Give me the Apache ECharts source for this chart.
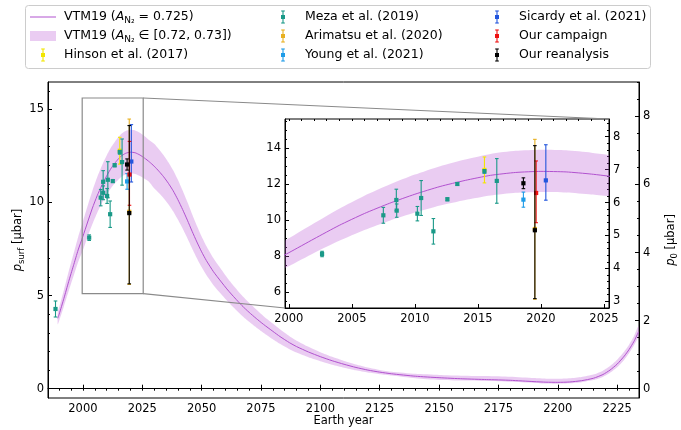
<!DOCTYPE html>
<html><head><meta charset="utf-8">
<script src="https://cdn.jsdelivr.net/npm/echarts@6/dist/echarts.min.js"></script>
<style>html,body{margin:0;padding:0;background:#fff}#c{width:681px;height:430px}</style>
</head><body><div id="c"></div>
<script>
// ---------------- data ----------------
const modelYears=[1989.4,1990,1992,1994,1996,1998,2000,2002,2004,2006,2008,2010,2012,2014,2016,2018,2020,2022,2024,2026,2028,2030,2032,2034,2036,2038,2040,2042,2044,2046,2048,2050,2052,2055,2058,2061,2064,2067,2070,2073,2076,2080,2083,2087,2090,2095,2100,2105,2110,2115,2120,2125,2130,2140,2150,2160,2170,2180,2190,2195,2200,2205,2210,2215,2219,2222,2225,2228,2230,2232,2234];
const modelMid=[3.78,4.0,4.85,5.75,6.6,7.45,8.18,8.95,9.7,10.36,10.93,11.43,11.86,12.2,12.48,12.64,12.7,12.67,12.55,12.38,12.18,11.95,11.68,11.38,11.03,10.63,10.15,9.62,9.05,8.45,7.88,7.35,6.88,6.28,5.78,5.3,4.87,4.46,4.1,3.77,3.46,3.08,2.8,2.47,2.26,1.97,1.72,1.5,1.31,1.14,1.0,0.89,0.8,0.67,0.59,0.53,0.49,0.45,0.38,0.35,0.34,0.36,0.43,0.56,0.76,1.0,1.32,1.75,2.1,2.52,3.05];
const modelHigh=[4.12,4.37,5.3,6.29,7.22,8.15,8.98,9.82,10.63,11.35,11.97,12.52,12.99,13.36,13.67,13.84,13.9,13.87,13.74,13.56,13.34,13.15,12.86,12.54,12.16,11.73,11.22,10.64,10.02,9.37,8.75,8.17,7.66,7.0,6.45,5.92,5.45,5.0,4.61,4.25,3.91,3.5,3.19,2.82,2.58,2.25,1.96,1.71,1.49,1.3,1.14,1.01,0.91,0.8,0.74,0.7,0.68,0.64,0.57,0.54,0.53,0.56,0.63,0.76,0.97,1.22,1.56,2.0,2.36,2.8,3.36];
const modelLow=[3.45,3.65,4.42,5.24,6.02,6.8,7.43,8.16,8.84,9.44,9.96,10.41,10.8,11.11,11.36,11.51,11.56,11.53,11.42,11.27,11.09,10.76,10.51,10.23,9.91,9.53,9.08,8.6,8.08,7.53,7.01,6.53,6.1,5.56,5.11,4.68,4.29,3.92,3.59,3.29,3.01,2.66,2.41,2.12,1.94,1.69,1.48,1.29,1.13,0.99,0.87,0.78,0.71,0.56,0.47,0.44,0.41,0.37,0.31,0.28,0.27,0.29,0.35,0.46,0.63,0.85,1.15,1.56,1.9,2.3,2.8];

const hinsonYears=[2015.52], hinsonVals=[12.78], hinsonLo=[0.72], hinsonHi=[0.72];
const mezaYears=[1988.46,2002.64,2007.5,2008.53,2008.56,2010.2,2010.5,2011.47,2012.58,2013.37,2015.52,2016.5];
const mezaVals=[4.28,8.11,10.26,11.11,10.52,10.35,11.22,9.37,11.15,12.0,12.7,12.17];
const mezaLo=[0.43,0.15,0.44,0.6,0.37,0.4,0.97,0.71,0.08,0.08,0.1,1.24];
const mezaHi=[0.43,0.15,0.44,0.6,0.37,0.4,0.97,0.71,0.08,0.08,0.1,1.24];
const arimatsuYears=[2019.52], arimatsuVals=[9.5], arimatsuLo=[3.9], arimatsuHi=[4.98];
const youngYears=[2018.61], youngVals=[11.13], youngLo=[0.42], youngHi=[0.42];
const sicardyYears=[2020.39], sicardyVals=[12.2], sicardyLo=[1.1], sicardyHi=[1.98];
const campaignYears=[2019.62], campaignVals=[11.5], campaignLo=[1.65], campaignHi=[1.78];
const reanalysisYears=[2018.61,2019.52], reanalysisVals=[12.04,9.43], reanalysisLo=[0.3,3.8], reanalysisHi=[0.3,4.7];

const mainXTicks=[2000,2025,2050,2075,2100,2125,2150,2175,2200,2225];
const mainYTicks=[0,5,10,15];
const mainP0Ticks=[0,2,4,6,8];
const insetXTicks=[2000,2005,2010,2015,2020,2025];
const insetYTicks=[6,8,10,12,14];
const insetP0Ticks=[3,4,5,6,7,8];

// ---------------- layout / style ----------------
const FONT='DejaVu Sans';
const P0K=0.547;
const mainX=[1985.3,2234.2], mainY=[-0.5,16.47];
const insetX=[1999.7,2025.4], insetY=[5.11,15.61];
const LINE='#b152cf', BAND='rgba(186,85,211,0.3)';
const COL={hinson:'#f2e600',meza:'#1a9988',arimatsu:'#e8b020',young:'#1e9ce8',sicardy:'#2255dd',campaign:'#ee1111',reanalysis:'#000000'};

function range(a,b,s){const r=[];for(let v=a;v<=b+1e-9;v+=s)r.push(+v.toFixed(4));return r;}
const fmt=v=>String(Math.round(v*100)/100);

const chart=echarts.init(document.getElementById('c'),null,{renderer:'canvas'});

const subRich={
  t:{fontFamily:FONT,fontSize:11.5,color:'#000',lineHeight:16,verticalAlign:'middle'},
  i:{fontFamily:FONT,fontSize:11.5,fontStyle:'italic',color:'#000',lineHeight:16,verticalAlign:'middle'},
  s:{fontFamily:FONT,fontSize:8.5,color:'#000',lineHeight:16,verticalAlign:'bottom'}
};

function lbl(vals,margin){return {show:true,customValues:vals,formatter:fmt,color:'#000',fontFamily:FONT,fontSize:11.5,margin:margin};}
function tk(vals){return {show:true,inside:true,length:4,customValues:vals,lineStyle:{color:'#000',width:1}};}
function majorAxis(o){
  return Object.assign({
    type:'value',nameMoveOverlap:false,
    axisLine:{show:true,lineStyle:{color:'#000',width:1}},
    splitLine:{show:false}
  },o);
}
function minorAxis(o,ticks){
  return Object.assign({
    type:'value',
    axisLine:{show:false},
    axisTick:{show:true,inside:true,length:2,customValues:ticks,lineStyle:{color:'#000',width:1}},
    axisLabel:{show:false},
    splitLine:{show:false}
  },o);
}

const xAxis=[
  majorAxis({gridIndex:0,min:mainX[0],max:mainX[1],axisTick:tk(mainXTicks),axisLabel:lbl(mainXTicks,5),
    name:'Earth year',nameLocation:'middle',nameGap:17,nameTextStyle:{fontFamily:FONT,fontSize:11.5,color:'#000',verticalAlign:'top'}}),
  minorAxis({gridIndex:0,min:mainX[0],max:mainX[1]},range(1990,2230,5)),
  majorAxis({gridIndex:1,min:insetX[0],max:insetX[1],axisTick:tk(insetXTicks),axisLabel:lbl(insetXTicks,5)}),
  minorAxis({gridIndex:1,min:insetX[0],max:insetX[1]},range(2000,2025,1))
];
const yAxis=[
  majorAxis({gridIndex:0,position:'left',min:mainY[0],max:mainY[1],axisTick:tk(mainYTicks),axisLabel:lbl(mainYTicks,4),
    name:'{i|p}{s|surf}{t| [μbar]}',nameLocation:'middle',nameGap:22,nameRotate:90,nameTextStyle:{rich:subRich}}),
  minorAxis({gridIndex:0,position:'left',min:mainY[0],max:mainY[1]},range(0,16,1)),
  majorAxis({gridIndex:0,position:'right',min:mainY[0]*P0K,max:mainY[1]*P0K,axisTick:tk(mainP0Ticks),axisLabel:lbl(mainP0Ticks,4),
    name:'{i|p}{s|0}{t| [μbar]}',nameLocation:'middle',nameGap:24,nameRotate:90,nameTextStyle:{rich:subRich}}),
  minorAxis({gridIndex:0,position:'right',min:mainY[0]*P0K,max:mainY[1]*P0K},range(0,9,0.5)),
  majorAxis({gridIndex:1,position:'left',min:insetY[0],max:insetY[1],axisTick:tk(insetYTicks),axisLabel:lbl(insetYTicks,4)}),
  minorAxis({gridIndex:1,position:'left',min:insetY[0],max:insetY[1]},range(5.5,15.5,0.5)),
  majorAxis({gridIndex:1,position:'right',min:insetY[0]*P0K,max:insetY[1]*P0K,axisTick:tk(insetP0Ticks),axisLabel:lbl(insetP0Ticks,4)}),
  minorAxis({gridIndex:1,position:'right',min:insetY[0]*P0K,max:insetY[1]*P0K},range(2.8,8.4,0.2))
];

function bandRender(params,api){
  if(params.dataIndex!==0) return null;
  const pts=[];
  for(let i=0;i<modelYears.length;i++) pts.push(api.coord([modelYears[i],modelHigh[i]]));
  for(let i=modelYears.length-1;i>=0;i--) pts.push(api.coord([modelYears[i],modelLow[i]]));
  return {type:'polygon',shape:{points:pts,smooth:0.2},style:{fill:BAND}};
}
function errRender(color){
  return function(params,api){
    const x=api.value(0),y=api.value(1),lo=api.value(2),hi=api.value(3);
    const c=api.coord([x,y]),a=api.coord([x,y-lo]),b=api.coord([x,y+hi]);
    const cap=1.8,m=2.1,w=1.1;
    return {type:'group',children:[
      {type:'line',shape:{x1:c[0],y1:a[1],x2:c[0],y2:b[1]},style:{stroke:color,lineWidth:w}},
      {type:'line',shape:{x1:c[0]-cap,y1:a[1],x2:c[0]+cap,y2:a[1]},style:{stroke:color,lineWidth:w}},
      {type:'line',shape:{x1:c[0]-cap,y1:b[1],x2:c[0]+cap,y2:b[1]},style:{stroke:color,lineWidth:w}},
      {type:'rect',shape:{x:c[0]-m,y:c[1]-m,width:2*m,height:2*m},style:{fill:color}}
    ]};
  };
}
const groups=[
  [hinsonYears,hinsonVals,hinsonLo,hinsonHi,COL.hinson],
  [mezaYears,mezaVals,mezaLo,mezaHi,COL.meza],
  [arimatsuYears,arimatsuVals,arimatsuLo,arimatsuHi,COL.arimatsu],
  [youngYears,youngVals,youngLo,youngHi,COL.young],
  [sicardyYears,sicardyVals,sicardyLo,sicardyHi,COL.sicardy],
  [campaignYears,campaignVals,campaignLo,campaignHi,COL.campaign],
  [reanalysisYears,reanalysisVals,reanalysisLo,reanalysisHi,COL.reanalysis]
];
const series=[];
[[0,0],[2,4]].forEach(([xi,yi])=>{
  series.push({type:'custom',xAxisIndex:xi,yAxisIndex:yi,clip:true,silent:true,z:1,
    renderItem:bandRender,encode:{x:0,y:1},
    data:modelYears.map((v,i)=>[v,modelMid[i]])});
  series.push({type:'line',xAxisIndex:xi,yAxisIndex:yi,showSymbol:false,symbol:'none',smooth:0.2,clip:true,z:2,
    lineStyle:{color:LINE,width:1},data:modelYears.map((v,i)=>[v,modelMid[i]])});
  groups.forEach((g,gi)=>{
    series.push({type:'custom',xAxisIndex:xi,yAxisIndex:yi,clip:true,z:3+gi,
      renderItem:errRender(g[4]),encode:{x:0,y:1},
      data:g[0].map((v,i)=>[v,g[1][i],g[2][i],g[3][i]])});
  });
});

// legend (graphic)
const LF=12.5;
const legendRich={
  t:{fontFamily:FONT,fontSize:LF,color:'#000',lineHeight:17,verticalAlign:'middle'},
  i:{fontFamily:FONT,fontSize:LF,fontStyle:'italic',color:'#000',lineHeight:17,verticalAlign:'middle'},
  s:{fontFamily:FONT,fontSize:9,color:'#000',lineHeight:17,verticalAlign:'bottom'}
};
function errHandle(x,y,color){
  return [
    {type:'line',shape:{x1:x,y1:y-6,x2:x,y2:y+6},style:{stroke:color,lineWidth:1.1}},
    {type:'line',shape:{x1:x-1.8,y1:y-6,x2:x+1.8,y2:y-6},style:{stroke:color,lineWidth:1.1}},
    {type:'line',shape:{x1:x-1.8,y1:y+6,x2:x+1.8,y2:y+6},style:{stroke:color,lineWidth:1.1}},
    {type:'rect',shape:{x:x-2,y:y-2,width:4,height:4},style:{fill:color}}
  ];
}
function txt(x,y,t){return {type:'text',x:x,y:y,style:{text:t,rich:legendRich,verticalAlign:'middle',align:'left'}};}
const R=[17,36,55];
const legendEls=[
  {type:'rect',shape:{x:25.5,y:5.5,width:625,height:63,r:3},style:{fill:'#fff',stroke:'#cccccc',lineWidth:1}},
  {type:'line',shape:{x1:30,y1:R[0],x2:56,y2:R[0]},style:{stroke:LINE,lineWidth:1}},
  {type:'rect',shape:{x:30,y:R[1]-5,width:26,height:10},style:{fill:BAND}},
  ...errHandle(43,R[2],COL.hinson),
  txt(64,R[0],'{t|VTM19 (}{i|A}{s|N₂}{t| = 0.725)}'),
  txt(64,R[1],'{t|VTM19 (}{i|A}{s|N₂}{t| ∈ [0.72, 0.73])}'),
  txt(64,R[2],'{t|Hinson et al. (2017)}'),
  ...errHandle(283,R[0],COL.meza),
  ...errHandle(283,R[1],COL.arimatsu),
  ...errHandle(283,R[2],COL.young),
  txt(305,R[0],'{t|Meza et al. (2019)}'),
  txt(305,R[1],'{t|Arimatsu et al. (2020)}'),
  txt(305,R[2],'{t|Young et al. (2021)}'),
  ...errHandle(497,R[0],COL.sicardy),
  ...errHandle(497,R[1],COL.campaign),
  ...errHandle(497,R[2],COL.reanalysis),
  txt(519,R[0],'{t|Sicardy et al. (2021)}'),
  txt(519,R[1],'{t|Our campaign}'),
  txt(519,R[2],'{t|Our reanalysis}')
];

chart.setOption({
  animation:false,
  backgroundColor:'#fff',
  grid:[
    {left:48,top:82,width:591,height:316,show:true,borderColor:'#000',borderWidth:1,backgroundColor:'transparent',outerBoundsMode:'none',containLabel:false},
    {left:285,top:119,width:324,height:189,show:true,borderColor:'#000',borderWidth:1,backgroundColor:'#fff',outerBoundsMode:'none',containLabel:false}
  ],
  xAxis:xAxis,yAxis:yAxis,series:series,
  graphic:{elements:legendEls.map((e,i)=>Object.assign({id:'lg'+i,z:100},e))}
});

// zoom-indicator box and connector lines (positions from axes)
const pm=v=>chart.convertToPixel({xAxisIndex:0,yAxisIndex:0},v);
const pi=v=>chart.convertToPixel({xAxisIndex:2,yAxisIndex:4},v);
const tl=pm([insetX[0],insetY[1]]), br=pm([insetX[1],insetY[0]]);
const itr=pi([insetX[1],insetY[1]]), ibl=pi([insetX[0],insetY[0]]);
const GR='#8a8a8a';
chart.setOption({graphic:{elements:[
  {id:'zbox',type:'rect',z:50,shape:{x:tl[0],y:tl[1],width:br[0]-tl[0],height:br[1]-tl[1]},style:{fill:'none',stroke:GR,lineWidth:1.2}},
  {id:'zl1',type:'line',z:50,shape:{x1:br[0],y1:tl[1],x2:itr[0],y2:itr[1]},style:{stroke:GR,lineWidth:1.2}},
  {id:'zl2',type:'line',z:50,shape:{x1:br[0],y1:br[1],x2:ibl[0],y2:ibl[1]},style:{stroke:GR,lineWidth:1.2}}
]}});
</script></body></html>
